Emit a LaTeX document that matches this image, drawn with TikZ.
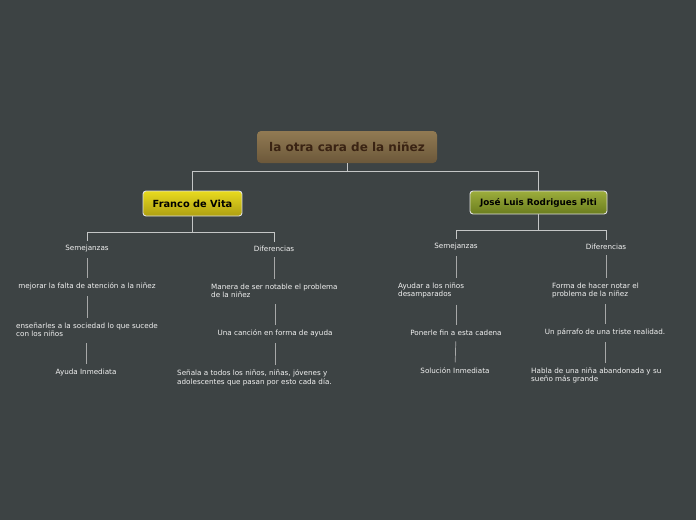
\documentclass[tikz,border=0pt]{standalone}
\usepackage{fontspec}
\setmainfont{DejaVu Sans}
\usetikzlibrary{positioning}
\definecolor{fundo}{HTML}{3D4344}
\definecolor{linhacor}{HTML}{C4C6C6}
\definecolor{textocor}{HTML}{F2F2F2}
\definecolor{marromA}{HTML}{917A53}
\definecolor{marromB}{HTML}{6C583A}
\definecolor{marromT}{HTML}{3A2313}
\definecolor{amareloA}{HTML}{E8DA1E}
\definecolor{amareloB}{HTML}{AE9F12}
\definecolor{verdeA}{HTML}{9CAD3C}
\definecolor{verdeB}{HTML}{6B7D1E}

\begin{document}
\begin{tikzpicture}[
    x=1pt, y=-1pt,
    font=\fontsize{7.2}{8.6}\selectfont,
    raiz/.style={rectangle, rounded corners=4pt, minimum width=180pt, minimum height=32pt,
        top color=marromA, bottom color=marromB,
        text=marromT, font=\fontsize{12}{14}\selectfont\bfseries},
    ramo/.style={draw=white!88!black, line width=0.9pt, rectangle, rounded corners=3pt,
        text=black, font=\fontsize{9.8}{11}\selectfont\bfseries},
    item/.style={text=textocor, inner sep=1pt, align=left, yshift=-1.5pt},
    ligacao/.style={draw=linhacor, line width=0.8pt},
    traco/.style={draw=linhacor!85!black, line width=0.7pt, shorten <=5pt, shorten >=4pt}
]
    \fill[fundo] (0,0) rectangle (696,520);

    % topo
    \node[raiz] (titulo) at (347,147) {la otra cara de la niñez};
    \node[ramo, minimum width=99pt, minimum height=25pt,
        top color=amareloA, bottom color=amareloB] (franco) at (192.5,203.5) {Franco de Vita};
    \node[ramo, minimum width=137pt, minimum height=23pt, font=\fontsize{8.8}{10}\selectfont\bfseries,
        top color=verdeA, bottom color=verdeB] (jose) at (538.5,202.5) {José Luis Rodrigues Piti};

    \draw[ligacao] (titulo.south) -- ++(0,8) -| (franco.north);
    \draw[ligacao] (titulo.south) -- ++(0,8) -| (jose.north);

    % Franco de Vita
    \node[item] (semA) at (87,247) {Semejanzas};
    \node[item] (difA) at (274,247) {Diferencias};
    \draw[ligacao, shorten >=3pt] (franco.south) -- ++(0,16) -| (semA.north);
    \draw[ligacao, shorten >=3pt] (franco.south) -- ++(0,16) -| (difA.north);

    \node[item] (semA1) at (87,285) {mejorar la falta de atención a la niñez};
    \node[item, anchor=north west] (semA2) at (15,320) {enseñarles a la sociedad lo que sucede\\con los niños};
    \node[item] (semA3) at (86,371) {Ayuda Inmediata};
    \draw[traco] (semA) -- (semA1);
    \draw[traco] (semA1.south) -- (semA1.south |- semA2.north);
    \draw[traco] (semA3.north |- semA2.south) -- (semA3.north);

    \node[item, anchor=north west] (difA1) at (210,281) {Manera de ser notable el problema\\de la niñez};
    \node[item] (difA2) at (275,332) {Una canción en forma de ayuda};
    \node[item, anchor=north west] (difA3) at (176,367) {Señala a todos los niños, niñas, jóvenes y\\adolescentes que pasan por esto cada día.};
    \draw[traco] (difA) -- (difA |- difA1.north);
    \draw[traco] (difA2.north |- difA1.south) -- (difA2.north);
    \draw[traco] (difA2.south) -- (difA2.south |- difA3.north);

    % José Luis Rodrigues Piti
    \node[item] (semB) at (456,245) {Semejanzas};
    \node[item] (difB) at (606,245) {Diferencias};
    \draw[ligacao, shorten >=3pt] (jose.south) -- ++(0,16) -| (semB.north);
    \draw[ligacao, shorten >=3pt] (jose.south) -- ++(0,16) -| (difB.north);

    \node[item, anchor=north west] (semB1) at (397,280) {Ayudar a los niños\\desamparados};
    \node[item] (semB2) at (456,331) {Ponerle fin a esta cadena};
    \node[item] (semB3) at (455,369) {Solución Inmediata};
    \draw[traco] (semB) -- (semB |- semB1.north);
    \draw[traco] (semB2.north |- semB1.south) -- (semB2.north);
    \draw[traco] (semB2) -- (semB3);

    \node[item, anchor=north west] (difB1) at (551,280) {Forma de hacer notar el\\problema de la niñez};
    \node[item] (difB2) at (605,331) {Un párrafo de una triste realidad.};
    \node[item, anchor=north west] (difB3) at (530,365) {Habla de una niña abandonada y su\\sueño más grande};
    \draw[traco] (difB) -- (difB |- difB1.north);
    \draw[traco] (difB2.north |- difB1.south) -- (difB2.north);
    \draw[traco] (difB2.south) -- (difB2.south |- difB3.north);
\end{tikzpicture}
\end{document}
